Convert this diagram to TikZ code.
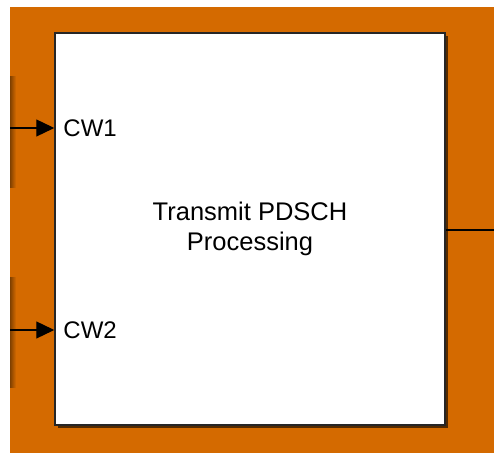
\documentclass[tikz,border=0pt]{standalone}
\usepackage{fontspec}
\setmainfont{Liberation Sans}
\usetikzlibrary{arrows.meta,shadows}
\definecolor{simorange}{RGB}{212,106,0}
\tikzset{
  block/.style={draw=black!85, line width=1.5pt, fill=white, inner sep=0pt,
    minimum width=390pt, minimum height=392pt, align=center,
    font=\fontsize{25.5}{29.5}\selectfont,
    drop shadow={shadow xshift=3pt, shadow yshift=-3pt, opacity=0.6, fill=black}},
  portlabel/.style={anchor=west, inner sep=0pt, font=\fontsize{24}{29}\selectfont},
  wire/.style={line width=1.3pt, -{Triangle[length=18pt,width=17pt]}},
}
\begin{document}
\begin{tikzpicture}[x=1pt,y=1pt]
\useasboundingbox [fill=white] (0,0) rectangle (494,454);
\fill [simorange] (10,1) rectangle (494,447);
% shadows of the blocks further left
\shade [left color=black!40!simorange, right color=simorange] (10,266) rectangle (16,377);
\shade [left color=black!40!simorange, right color=simorange] (10,66) rectangle (16,176);
\node [block] (pdsch) at (250,225) {Transmit PDSCH\\Processing};
\coordinate (in1) at (10,326);
\coordinate (in2) at (10,124);
\coordinate (out) at (494,224);
\draw [wire] (in1) -- (in1 -| pdsch.west);
\draw [wire] (in2) -- (in2 -| pdsch.west);
\draw [line width=1.3pt] (out -| pdsch.east) -- (out);
\node [portlabel] (cw1) at ([xshift=9pt]in1 -| pdsch.west) {CW1};
\node [portlabel] (cw2) at ([xshift=9pt]in2 -| pdsch.west) {CW2};
\end{tikzpicture}
\end{document}
